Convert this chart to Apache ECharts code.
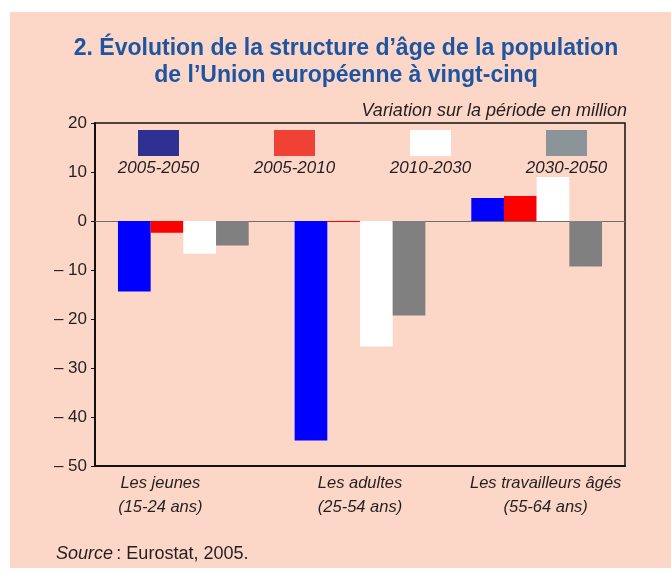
<!DOCTYPE html>
<html>
<head>
<meta charset="utf-8">
<script src="https://cdn.jsdelivr.net/npm/echarts@6/dist/echarts.min.js"></script>
<style>
  html, body { margin: 0; padding: 0; background: #fff; }
  #chart { width: 671px; height: 572px; }
</style>
</head>
<body>
<div id="chart"></div>
<script>
const categories = ['Les jeunes\n(15-24 ans)', 'Les adultes\n(25-54 ans)', 'Les travailleurs âgés\n(55-64 ans)']
const periods = ['2005-2050', '2005-2010', '2010-2030', '2030-2050']
const v2005_2050 = [-14.4, -44.8, 4.7]
const v2005_2010 = [-2.4, -0.2, 5.1]
const v2010_2030 = [-6.7, -25.6, 9.0]
const v2030_2050 = [-5.0, -19.3, -9.3]
const yTicks = [-50, -40, -30, -20, -10, 0, 10, 20]

const seriesValues = [v2005_2050, v2005_2010, v2010_2030, v2030_2050]
const barColors = ['#0000ff', '#ff0000', '#ffffff', '#808080']
const swatchColors = ['#2e3192', '#ef4136', '#ffffff', '#8a9499']
const ink = '#231f20'
const font = '"Liberation Sans", Arial, sans-serif'

const chart = echarts.init(document.getElementById('chart'))

// legend drawn by hand: swatch above, italic label below
const legendItems = []
periods.forEach((p, i) => {
  const x = 138 + i * 136
  legendItems.push({
    type: 'rect',
    shape: { x: x, y: 130, width: 41, height: 26 },
    style: { fill: swatchColors[i] },
  })
  legendItems.push({
    type: 'text',
    x: x + 20.5,
    y: 168,
    style: {
      text: p,
      fill: ink,
      font: 'italic 17px ' + font,
      textAlign: 'center',
      textVerticalAlign: 'middle',
    },
  })
})

const option = {
  backgroundColor: '#fff',
  animation: false,
  title: {
    text: '2. Évolution de la structure d’âge de la population\nde l’Union européenne à vingt-cinq',
    left: 341,
    top: 30,
    textAlign: 'center',
    textStyle: {
      color: '#1d55a2',
      fontFamily: font,
      fontWeight: 'bold',
      fontSize: 23,
      lineHeight: 27,
    },
  },
  graphic: [
    {
      type: 'rect',
      z: -10,
      shape: { x: 10, y: 12, width: 661, height: 556 },
      style: { fill: '#fcd6c6' },
    },
    {
      type: 'text',
      x: 627,
      y: 111,
      style: {
        text: 'Variation sur la période en million',
        fill: ink,
        font: 'italic 18px ' + font,
        textAlign: 'right',
        textVerticalAlign: 'middle',
      },
    },
    {
      type: 'text',
      x: 56,
      y: 554,
      style: {
        rich: {
          i: { fontStyle: 'italic', fontSize: 18, fontFamily: font, fill: ink },
          n: { fontSize: 18, fontFamily: font, fill: ink },
        },
        text: '{i|Source} {n|: Eurostat, 2005.}',
        textVerticalAlign: 'middle',
      },
    },
    ...legendItems,
  ],
  grid: {
    left: 95,
    right: 46,
    top: 123,
    bottom: 106,
    show: true,
    borderColor: '#111',
    borderWidth: 1.5,
  },
  xAxis: {
    type: 'category',
    data: categories.map((c, i) => ({
      value: c,
      textStyle: { padding: i === 0 ? [0, 46, 0, 0] : i === 2 ? [0, 0, 0, 18] : [0, 0, 0, 0] },
    })),
    axisLine: { onZero: false, lineStyle: { color: '#111', width: 2 } },
    axisTick: { show: false },
    axisLabel: {
      color: ink,
      fontFamily: font,
      fontStyle: 'italic',
      fontSize: 16.5,
      lineHeight: 24,
      margin: 5,
      interval: 0,
    },
  },
  yAxis: {
    type: 'value',
    min: yTicks[0],
    max: yTicks[yTicks.length - 1],
    interval: 10,
    axisLine: { show: true, lineStyle: { color: '#111', width: 2 } },
    axisTick: { show: true, length: 4, lineStyle: { color: '#111' } },
    splitLine: { show: false },
    axisLabel: {
      color: ink,
      fontFamily: font,
      fontSize: 17,
      margin: 8,
      formatter: (v) => (v < 0 ? '– ' + Math.abs(v) : String(v)),
    },
  },
  series: seriesValues.map((vals, i) => ({
    name: periods[i],
    type: 'bar',
    data: vals,
    barGap: '0%',
    barCategoryGap: '26%',
    itemStyle: { color: barColors[i] },
    silent: true,
    markLine: i === 0 ? {
      silent: true,
      symbol: 'none',
      label: { show: false },
      lineStyle: { color: '#6d6d6d', width: 1, type: 'solid' },
      data: [{ yAxis: 0 }],
      z: 1,
    } : undefined,
  })),
}

chart.setOption(option)
</script>
</body>
</html>
